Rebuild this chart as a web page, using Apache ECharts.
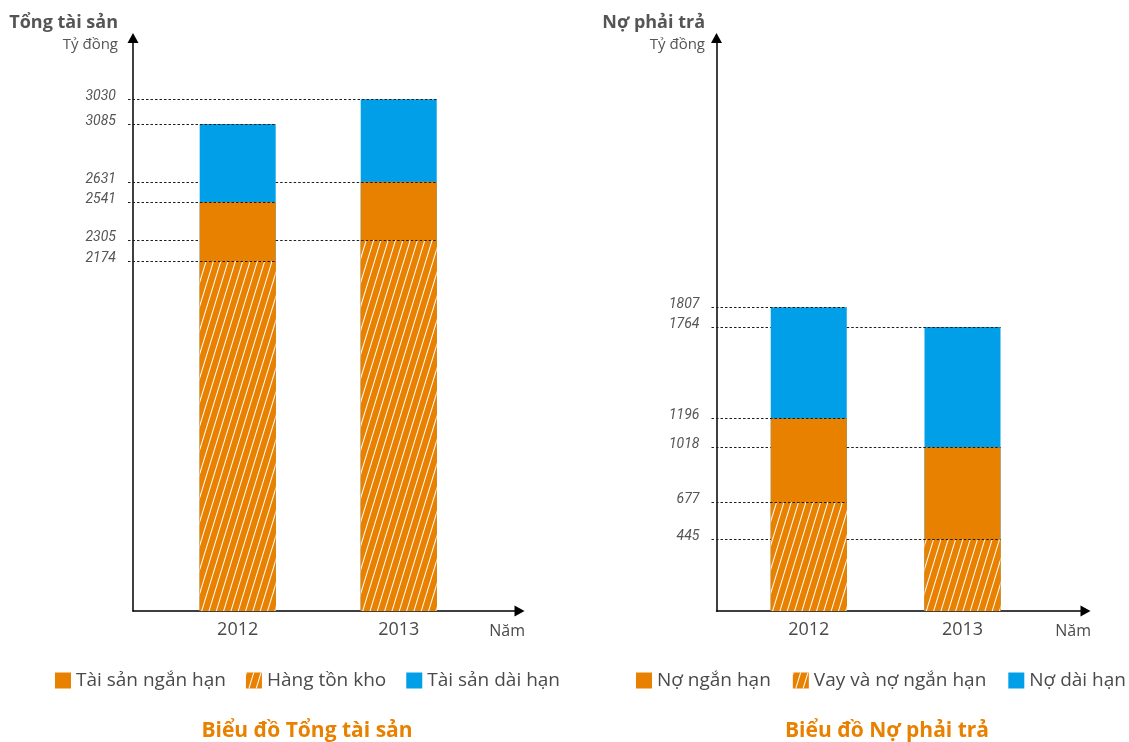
<!DOCTYPE html>
<html>
<head>
<meta charset="utf-8">
<script src="https://cdn.jsdelivr.net/npm/echarts@6/dist/echarts.min.js"></script>
<style>html,body{margin:0;padding:0;background:#fff}#c{width:1129px;height:742px}</style>
</head>
<body>
<div id="c"></div>
<script>
// ---- data (tỷ đồng) ----
const categories = ['2012', '2013'];
const years = [2012, 2013];

// Tổng tài sản: segment tops as drawn in the picture
const hangTonKho = [2174, 2305];
const taiSanNganHan = [2541, 2667];
const tongTaiSan = [3025, 3180];
// printed labels
const hangTonKhoLabels = ['2174', '2305'];
const taiSanNganHanLabels = ['2541', '2631'];
const tongTaiSanLabels = ['3085', '3030'];

// Nợ phải trả: segment tops as drawn in the picture
const vayNganHan = [677, 445];
const noNganHan = [1196, 1018];
const noPhaiTra = [1887, 1764];
// printed labels
const vayNganHanLabels = ['677', '445'];
const noNganHanLabels = ['1196', '1018'];
const noPhaiTraLabels = ['1807', '1764'];

// ---- styling ----
const ORANGE = '#E88000';
const BLUE = '#009FE8';
const TEXT = '#4a4a4a';
const FONT = '"Open Sans", "Noto Sans", sans-serif';
const BAR_W = 76;

const hatch = {
  symbol: 'rect', symbolSize: 1,
  dashArrayX: [1, 0], dashArrayY: [1, 6],
  rotation: -73 * Math.PI / 180,
  color: '#ffffff'
};

function pairs(vals) { return years.map((y, i) => [y, vals[i]]); }

function lineItems(groups) {
  const data = [], labels = [];
  groups.forEach(g => {
    years.forEach((y, i) => { data.push([y, g.values[i], i]); labels.push(g.labels[i]); });
  });
  return { data, labels };
}

function makeRender(labels, tops) {
  return function (params, api) {
    const x = api.value(0), v = api.value(1), bi = api.value(2);
    const p = api.coord([x, v]);
    const cs = params.coordSys;
    const half = BAR_W / 2;
    const y = Math.round(p[1]) + 0.5;
    const seg = (a, b) => ({
      type: 'line',
      shape: { x1: a, y1: y, x2: b, y2: y },
      style: { stroke: '#1e1e1e', lineWidth: 1, lineDash: [2.5, 2] }
    });
    const children = [];
    let cur = cs.x - 5;
    for (let j = 0; j < bi; j++) {
      if (v < tops[j]) {
        const xj = api.coord([years[j], v])[0];
        children.push(seg(cur, xj - half));
        cur = xj + half;
      }
    }
    children.push(seg(cur, p[0] + half));
    children.push({
      type: 'text',
      style: {
        text: labels[params.dataIndex],
        x: cs.x - 17, y: y - 3,
        align: 'right', verticalAlign: 'middle',
        textAlign: 'right', textVerticalAlign: 'middle',
        font: 'italic 14px Roboto', fill: '#555'
      }
    });
    return { type: 'group', children };
  };
}

const leftLines = lineItems([
  { values: tongTaiSan, labels: tongTaiSanLabels },
  { values: taiSanNganHan, labels: taiSanNganHanLabels },
  { values: hangTonKho, labels: hangTonKhoLabels }
]);
const rightLines = lineItems([
  { values: noPhaiTra, labels: noPhaiTraLabels },
  { values: noNganHan, labels: noNganHanLabels },
  { values: vayNganHan, labels: vayNganHanLabels }
]);

function xAxis(grid, min, max) {
  return {
    type: 'value', gridIndex: grid, min: min, max: max,
    axisLine: { show: true, onZero: false, symbol: ['none', 'triangle'], symbolSize: [11, 10],
      lineStyle: { color: '#000', width: 1.5 } },
    axisTick: { show: false }, splitLine: { show: false },
    axisLabel: {
      customValues: years,
      formatter: v => categories[years.indexOf(v)],
      fontSize: 18, color: TEXT, fontFamily: FONT, margin: 10
    }
  };
}
function yAxis(grid) {
  return {
    type: 'value', gridIndex: grid, min: 0, max: 3560,
    axisLine: { show: true, onZero: false, symbol: ['none', 'triangle'], symbolSize: [11, 10],
      lineStyle: { color: '#000', width: 1.5 } },
    axisTick: { show: false }, splitLine: { show: false }, axisLabel: { show: false }
  };
}
function bar(name, vals, grid, color, z, decal) {
  const s = {
    type: 'bar', name: name, xAxisIndex: grid, yAxisIndex: grid,
    data: pairs(vals), barWidth: BAR_W, barGap: '-100%', z: z,
    itemStyle: { color: color }, silent: true
  };
  if (decal) s.itemStyle.decal = decal;
  return s;
}
function legend(left, width, names, gap) {
  return {
    data: names, left: left, top: 671, width: width, padding: 0, icon: 'rect',
    itemWidth: 16, itemHeight: 16, itemGap: gap, selectedMode: false,
    textStyle: { fontSize: 19, color: TEXT, fontFamily: FONT }
  };
}
function txt(x, y, text, font, color, align) {
  return { type: 'text', x: x, y: y, silent: true,
    style: { text: text, font: font, fill: color, align: align, verticalAlign: 'middle',
      textAlign: align, textVerticalAlign: 'middle' } };
}

const chart = echarts.init(document.getElementById('c'));
chart.setOption({
  animation: false,
  backgroundColor: '#fff',
  grid: [
    { left: 133, top: 38, width: 386.5, height: 573 },
    { left: 716.5, top: 38, width: 369, height: 573 }
  ],
  xAxis: [xAxis(0, 2011.35, 2013.75), xAxis(1, 2011.4, 2013.8)],
  yAxis: [yAxis(0), yAxis(1)],
  legend: [
    legend(55, 540, ['Tài sản ngắn hạn', 'Hàng tồn kho', 'Tài sản dài hạn'], 20),
    legend(636, 492, ['Nợ ngắn hạn', 'Vay và nợ ngắn hạn', 'Nợ dài hạn'], 22)
  ],
  series: [
    bar('Tài sản dài hạn', tongTaiSan, 0, BLUE, 2),
    bar('Tài sản ngắn hạn', taiSanNganHan, 0, ORANGE, 3),
    bar('Hàng tồn kho', hangTonKho, 0, ORANGE, 4, hatch),
    bar('Nợ dài hạn', noPhaiTra, 1, BLUE, 2),
    bar('Nợ ngắn hạn', noNganHan, 1, ORANGE, 3),
    bar('Vay và nợ ngắn hạn', vayNganHan, 1, ORANGE, 4, hatch),
    { type: 'custom', coordinateSystem: 'cartesian2d', xAxisIndex: 0, yAxisIndex: 0,
      clip: false, silent: true, z: 6, data: leftLines.data,
      renderItem: makeRender(leftLines.labels, tongTaiSan) },
    { type: 'custom', coordinateSystem: 'cartesian2d', xAxisIndex: 1, yAxisIndex: 1,
      clip: false, silent: true, z: 6, data: rightLines.data,
      renderItem: makeRender(rightLines.labels, noPhaiTra) }
  ],
  graphic: [
    txt(118, 23, 'Tổng tài sản', 'bold 18px ' + FONT, '#555', 'right'),
    txt(118, 45, 'Tỷ đồng', '15px ' + FONT, '#555', 'right'),
    txt(705, 23, 'Nợ phải trả', 'bold 18px ' + FONT, '#555', 'right'),
    txt(705, 45, 'Tỷ đồng', '15px ' + FONT, '#555', 'right'),
    txt(525, 631, 'Năm', '16px ' + FONT, TEXT, 'right'),
    txt(1091, 631, 'Năm', '16px ' + FONT, TEXT, 'right'),
    txt(307, 731, 'Biểu đồ Tổng tài sản', 'bold 21px ' + FONT, ORANGE, 'center'),
    txt(887, 731, 'Biểu đồ Nợ phải trả', 'bold 21px ' + FONT, ORANGE, 'center')
  ]
});
</script>
</body>
</html>
